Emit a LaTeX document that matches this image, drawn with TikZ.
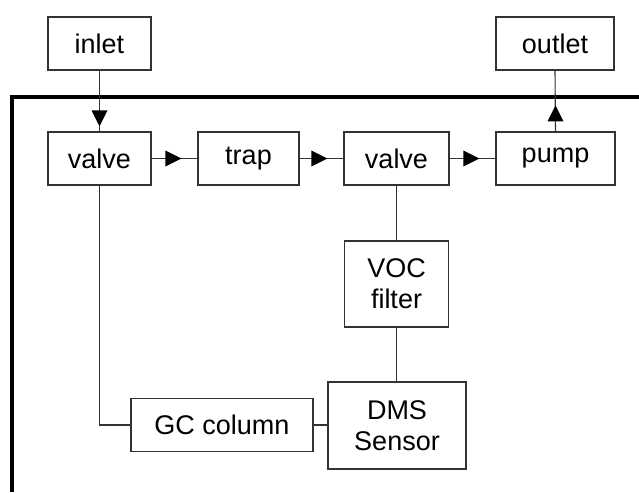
\documentclass[tikz,border=0pt]{standalone}
\usepackage{fontspec}
\setmainfont{Liberation Sans}
\usetikzlibrary{arrows.meta,calc}
\begin{document}
\begin{tikzpicture}[x=1pt,y=-1pt,
  box/.style={draw=black!80,line width=1.3pt,inner sep=0pt,align=center,
    font=\fontsize{27}{31}\selectfont},
  conn/.style={draw=black!80,line width=1.1pt},
  arr/.style={conn,-{Triangle[length=16pt,width=16pt,fill=black,line width=0pt]}}]
\useasboundingbox (0,0) rectangle (639,492);
% frame
\draw[line width=3.5pt,line join=miter] (639,97) -- (12,97) -- (12,492);
% nodes
\node[box,minimum width=103pt,minimum height=53pt] (inlet) at (99.5,43.5) {inlet};
\node[box,minimum width=118pt,minimum height=53pt] (outlet) at (555,43.5) {outlet};
\node[box,minimum width=103pt,minimum height=53pt] (v1) at (99.5,158.5) {valve};
\node[box,minimum width=101pt,minimum height=53pt] (trap) at (248.5,158.5) {trap};
\node[box,minimum width=105pt,minimum height=53pt] (v2) at (396.5,158.5) {valve};
\node[box,minimum width=119pt,minimum height=53pt] (pump) at (555.5,158.5) {pump};
\node[box,minimum width=104pt,minimum height=86pt] (voc) at (396.5,284) {VOC\\filter};
\node[box,minimum width=138pt,minimum height=87pt] (dms) at (397,425.5) {DMS\\Sensor};
\node[box,minimum width=182pt,minimum height=53pt] (gc) at (222,425) {GC column};
% connectors with mid arrowheads
\draw[conn] (inlet.south) -- (v1.north);
\draw[arr] (inlet.south) -- ($(v1.north)+(0,-5)$);
\draw[conn] (v1.east) -- (trap.west);
\draw[arr] (v1.east) -- ($(trap.west)+(-16,0)$);
\draw[conn] (trap.east) -- (v2.west);
\draw[arr] (trap.east) -- ($(v2.west)+(-16,0)$);
\draw[conn] (v2.east) -- (pump.west);
\draw[arr] (v2.east) -- ($(pump.west)+(-16,0)$);
\draw[conn] (pump.north) -- (outlet.south);
\draw[arr] (pump.north) -- ($(pump.north)+(0,-26)$);
% plain connectors
\draw[conn] (v2.south) -- (voc.north);
\draw[conn] (voc.south) -- (voc.south |- dms.north);
\draw[conn] (v1.south) |- (gc.west);
\draw[conn] (gc.east) -- (gc.east -| dms.west);
\end{tikzpicture}
\end{document}
